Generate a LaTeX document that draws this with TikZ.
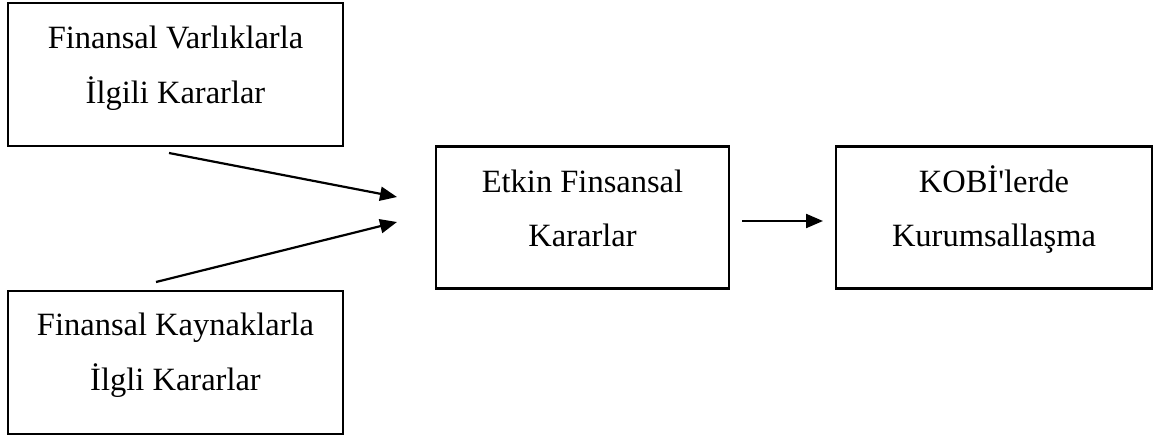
\documentclass[tikz,border=0pt]{standalone}
\usepackage{fontspec}
\setmainfont{Liberation Serif}[Ligatures=TeXOff]
\usetikzlibrary{arrows.meta}
\begin{document}
\begin{tikzpicture}[x=1pt,y=-1pt,
  box/.style={draw=black,line width=2.2pt,minimum width=#1,inner sep=0pt},
  txt/.style={anchor=base,inner sep=0pt,font=\fontsize{32.5}{40}\selectfont},
  arr/.style={line width=2.2pt,-{Triangle[length=17pt,width=14pt]}}]
\useasboundingbox (0,0) rectangle (1157,439);
% boxes
\node[box=335pt,minimum height=143pt] (a) at (175.5,74.5) {};
\node[box=335pt,minimum height=143pt] (b) at (175.5,362.5) {};
\node[box=293pt,minimum height=142pt] (c) at (582.5,217.5) {};
\node[box=316pt,minimum height=142pt] (d) at (994,217.5) {};
% texts
\node[txt] (a1) at ([yshift=26.5pt]a.center) {Finansal Varlıklarla};
\node[txt] (a2) at ([yshift=-28.5pt]a.center) {İlgili Kararlar};
\node[txt] (b1) at ([yshift=27.5pt]b.center) {Finansal Kaynaklarla};
\node[txt] (b2) at ([yshift=-27.5pt]b.center) {İlgli Kararlar};
\node[txt] (c1) at ([yshift=25.5pt]c.center) {Etkin Finsansal};
\node[txt] (c2) at ([yshift=-28.5pt]c.center) {Kararlar};
\node[txt] (d1) at ([yshift=25.5pt]d.center) {KOBİ'lerde};
\node[txt] (d2) at ([yshift=-28.5pt]d.center) {Kurumsallaşma};
% arrow ends
\coordinate (s1) at (169,153);
\coordinate (t1) at (397,197);
\coordinate (s2) at (156,282);
\coordinate (t2) at (397,222);
\coordinate (s3) at (742,221);
\coordinate (t3) at (823,221);
\draw[arr] (s1) -- (t1);
\draw[arr] (s2) -- (t2);
\draw[arr] (s3) -- (t3);
\end{tikzpicture}
\end{document}
